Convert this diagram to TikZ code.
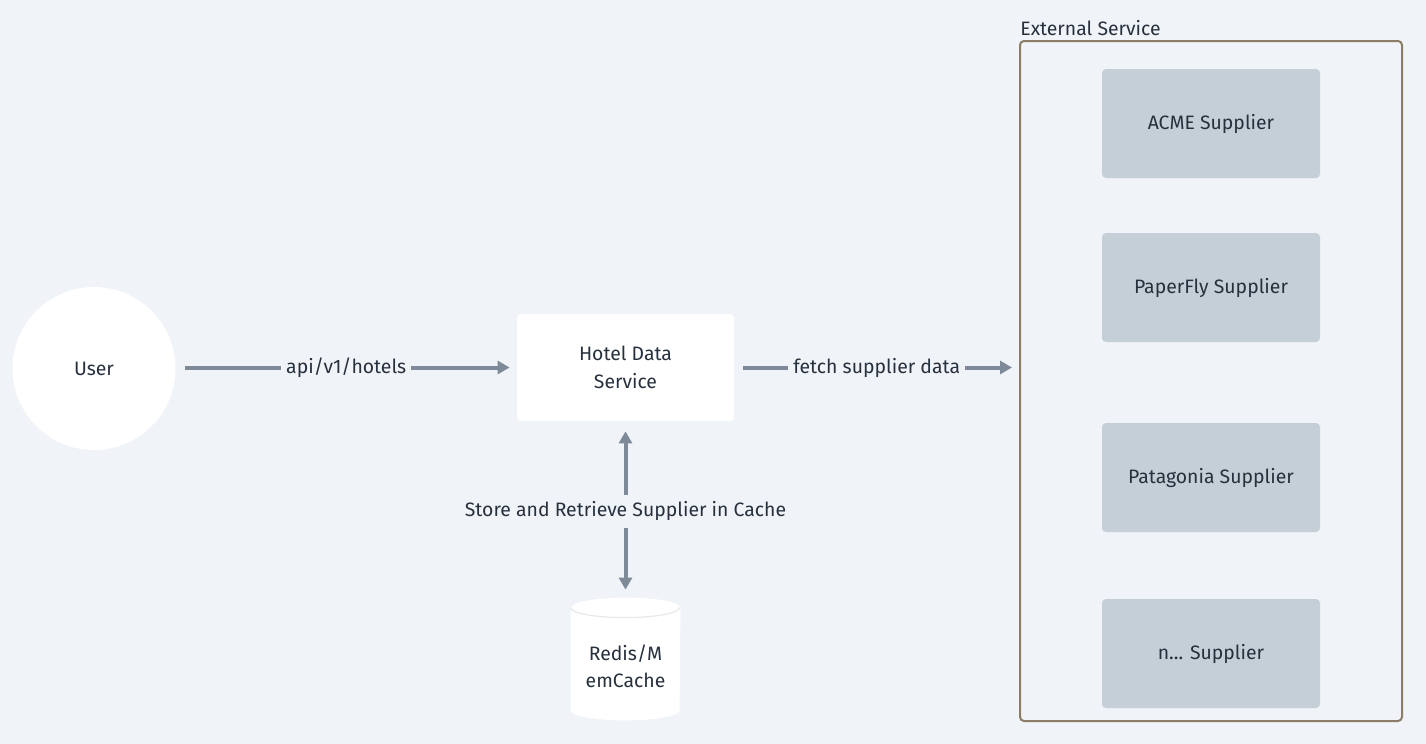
\documentclass[tikz,border=0pt]{standalone}
\usepackage{fontspec}
\setmainfont{Fira Sans}
\usetikzlibrary{arrows.meta,positioning,calc}
\usepackage{xcolor}
\definecolor{canvas}{HTML}{F0F3F7}
\definecolor{ink}{HTML}{27313E}
\definecolor{wire}{HTML}{7E8A97}
\definecolor{supplier}{HTML}{C5CFD8}
\definecolor{frame}{HTML}{8C7E66}

\begin{document}
\begin{tikzpicture}[
    x=0.5pt, y=-0.5pt,
    box/.style={rectangle, fill=white, rounded corners=2pt, minimum width=108.5pt,
                minimum height=53.5pt, align=center, text=ink,
                font=\fontsize{9.7}{14}\selectfont},
    supplierbox/.style={box, fill=supplier, minimum width=109pt, minimum height=54.5pt},
    actor/.style={circle, fill=white, minimum size=81.5pt, text=ink, font=\fontsize{9.7}{14}\selectfont},
    wirelabel/.style={fill=canvas, text=ink, inner xsep=2.5pt, inner ysep=2pt,
                      font=\fontsize{9.7}{12}\selectfont},
    arrow/.style={-{Triangle[length=6pt,width=6.5pt]}, line width=2pt, draw=wire},
  ]
    \fill[canvas] (0,0) rectangle (1426,744);

    \node[actor] (user) at (94,368.5) {User};
    \node[box] (hds) at (625.5,367.5) {Hotel Data\\Service};
    \node[rectangle, minimum width=54.5pt, minimum height=61pt, align=center, text=ink,
          font=\fontsize{9.7}{13.5}\selectfont] (cache) at (625.5,659) {};

    % cache cylinder
    \fill[white] ([yshift=-5pt]cache.north west) -- ([yshift=5pt]cache.south west)
      arc[start angle=180, end angle=360, x radius=27.25pt, y radius=5pt]
      -- ([yshift=-5pt]cache.north east)
      arc[start angle=0, end angle=180, x radius=27.25pt, y radius=5pt] -- cycle;
    \draw[gray!18, line width=0.6pt] ([yshift=-5pt]cache.north west)
      arc[start angle=180, end angle=360, x radius=27.25pt, y radius=5pt];
    \node[align=center, text=ink, font=\fontsize{9.7}{13.5}\selectfont] (cachetext)
      at ([yshift=-3.5pt]cache.center) {Redis/M\\emCache};

    % external suppliers
    \node[rectangle, draw=frame, line width=1pt, rounded corners=2pt,
          minimum width=191pt, minimum height=340pt] (ext) at (1211,381) {};
    \node[anchor=south west, inner sep=0pt, text=ink, font=\fontsize{9.7}{12}\selectfont]
      (extlabel) at ([xshift=0.5pt,yshift=2pt]ext.north west) {External Service};
    \node[supplierbox] (acme) at (1211,123.5) {ACME Supplier};
    \node[supplierbox] (paperfly) at (1211,287.5) {PaperFly Supplier};
    \node[supplierbox] (patagonia) at (1211,477.5) {Patagonia Supplier};
    \node[supplierbox] (nsup) at (1211,653.5) {n... Supplier};

    \draw[arrow, shorten <=4.5pt, shorten >=3.5pt] (user.east |- hds.east) --
      node[wirelabel]{api/v1/hotels} (hds.west);
    \draw[arrow, shorten <=4.5pt, shorten >=3.5pt] (hds.east) --
      node[wirelabel]{fetch supplier data} (hds.east -| ext.west);
    \draw[arrow, {Triangle[length=6pt,width=6.5pt]}-{Triangle[length=6pt,width=6.5pt]},
          shorten <=5pt, shorten >=4pt] (hds.south) --
      node[wirelabel, inner ysep=3.5pt, pos=0.51]{Store and Retrieve Supplier in Cache} (cache.north);
  \end{tikzpicture}
\end{document}
